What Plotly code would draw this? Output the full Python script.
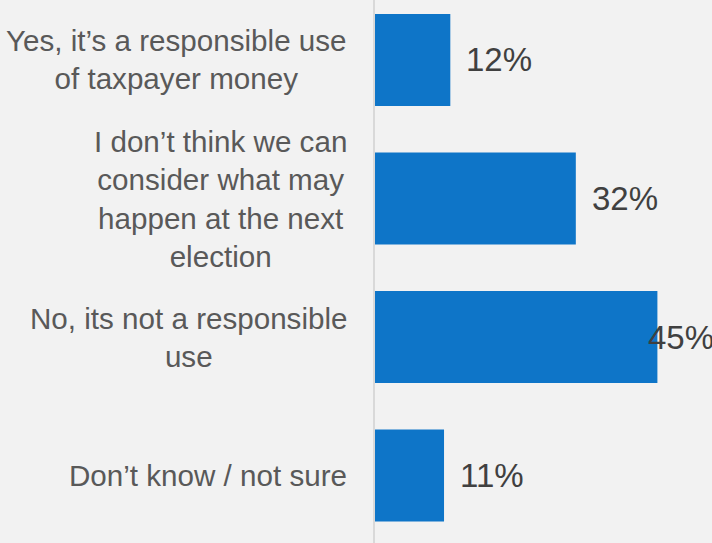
import plotly.graph_objects as go

categories = [
    "Yes, it’s a responsible use<br>of taxpayer money",
    "I don’t think we can<br>consider what may<br>happen at the next<br>election",
    "No, its not a responsible<br>use",
    "Don’t know / not sure",
]
values = [12, 32, 45, 11]
value_labels = ["12%", "32%", "45%", "11%"]

BG = "#f2f2f2"
BAR = "#0e75c8"
LABEL_COLOR = "#595959"
VALUE_COLOR = "#404040"
FONT = "Liberation Sans, Arial, sans-serif"

W, H = 712, 543
L = 375
X_MAX = 53.7

fig = go.Figure(
    go.Bar(
        x=values,
        y=categories,
        orientation="h",
        marker=dict(color=BAR, line=dict(width=0)),
        hoverinfo="skip",
    )
)

annotations = []
px_per_unit = (W - L) / X_MAX
for cat, v, lab in zip(categories, values, value_labels):
    # category label, centered block, right edge near axis
    annotations.append(dict(
        xref="paper", yref="y", x=0, y=cat, xanchor="right", yanchor="middle",
        xshift=-26, text=cat, align="center", showarrow=False,
        font=dict(family=FONT, size=29.6, color=LABEL_COLOR),
    ))
    # value label just past the bar end, kept inside the figure when too long
    est_w = 2.0 * 33
    if v * px_per_unit + 14 + est_w > (W - L) + 10:
        annotations.append(dict(
            xref="paper", yref="y", x=1, y=cat, xanchor="right", yanchor="middle",
            xshift=4, text=lab, showarrow=False,
            font=dict(family=FONT, size=33, color=VALUE_COLOR),
        ))
    else:
        annotations.append(dict(
            xref="x", yref="y", x=v, y=cat, xanchor="left", yanchor="middle",
            xshift=14, text=lab, showarrow=False,
            font=dict(family=FONT, size=33, color=VALUE_COLOR),
        ))

fig.update_layout(
    width=W, height=H,
    margin=dict(l=L, r=0, t=0, b=0, pad=0),
    paper_bgcolor=BG, plot_bgcolor=BG,
    bargap=0.336,
    showlegend=False,
    annotations=annotations,
    xaxis=dict(range=[0, X_MAX], visible=False, fixedrange=True),
    yaxis=dict(
        categoryorder="array", categoryarray=categories,
        range=[3.487, -0.433],
        showticklabels=False, showgrid=False, zeroline=False,
        showline=True, linecolor="#d9d9d9", linewidth=2, ticks="",
        fixedrange=True,
    ),
)

fig.write_html(
    "out.html",
    config={"displayModeBar": False},
    post_script="document.body.style.margin='0';document.body.style.overflow='hidden';document.body.style.background='#f2f2f2';",
)
